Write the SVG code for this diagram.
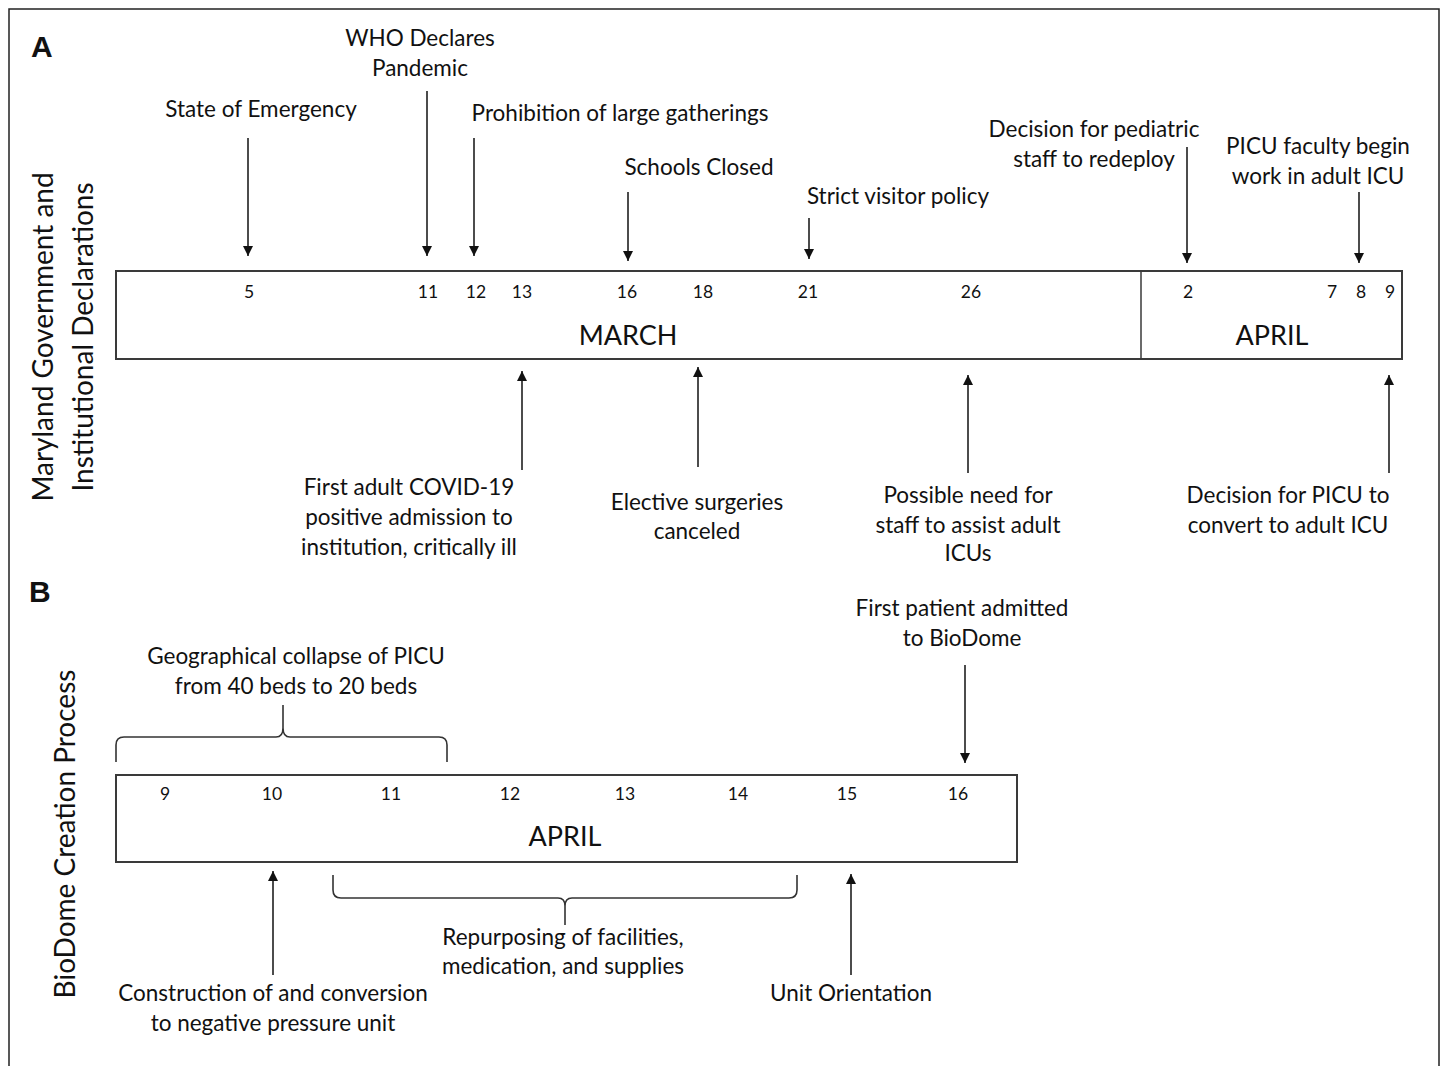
<svg xmlns="http://www.w3.org/2000/svg" width="1442" height="1066" viewBox="0 0 1442 1066">
<defs>
<marker id="ah" markerWidth="12" markerHeight="12" refX="10" refY="5" orient="auto" markerUnits="userSpaceOnUse">
<path d="M0,0 L10,5 L0,10 Z" fill="#111"/>
</marker>
<style>
text{font-family:Lato,"Open Sans","Liberation Sans",sans-serif;fill:#111}
.lbl{font-size:22.5px;text-anchor:middle}
.num{font-size:17.5px;text-anchor:middle}
.mon{font-size:27px;text-anchor:middle}
.side{font-size:28px;text-anchor:middle}
.pan{font-size:30px;font-weight:bold;font-family:"Liberation Sans",Arial,sans-serif}
.box{fill:none;stroke:#3a3a3a;stroke-width:2}
.arr{stroke:#111;stroke-width:1.5;fill:none;marker-end:url(#ah)}
.brace{stroke:#333;stroke-width:1.6;fill:none}
</style>
</defs>
<rect width="1442" height="1066" fill="#fff"/>
<path d="M9,1066 L9,9 L1439,9 L1439,1066" fill="none" stroke="#222" stroke-width="1.5"/>

<g id="panelA-titles">
<text class="pan" x="31" y="57">A</text>
<text class="side" transform="translate(53,337) rotate(-90)">Maryland Government and</text>
<text class="side" transform="translate(93,337) rotate(-90)">Institutional Declarations</text>
</g>

<g id="timelineA">
<rect class="box" x="116" y="271" width="1286" height="88"/>
<line x1="1141" y1="271" x2="1141" y2="359" stroke="#3a3a3a" stroke-width="1.5"/>
<text class="num" x="249" y="298">5</text>
<text class="num" x="428" y="298">11</text>
<text class="num" x="476" y="298">12</text>
<text class="num" x="522" y="298">13</text>
<text class="num" x="627" y="298">16</text>
<text class="num" x="703" y="298">18</text>
<text class="num" x="808" y="298">21</text>
<text class="num" x="971" y="298">26</text>
<text class="num" x="1188" y="298">2</text>
<text class="num" x="1332" y="298">7</text>
<text class="num" x="1361" y="298">8</text>
<text class="num" x="1390" y="298">9</text>
<text class="mon" x="628" y="345">MARCH</text>
<text class="mon" x="1272" y="345">APRIL</text>
</g>

<g id="eventsA">
<text class="lbl" x="261" y="117">State of Emergency</text>
<text class="lbl" x="420" y="46">WHO Declares</text>
<text class="lbl" x="420" y="76">Pandemic</text>
<text class="lbl" x="620" y="121">Prohibition of large gatherings</text>
<text class="lbl" x="699" y="175">Schools Closed</text>
<text class="lbl" x="898" y="204">Strict visitor policy</text>
<text class="lbl" x="1094" y="137">Decision for pediatric</text>
<text class="lbl" x="1094" y="167">staff to redeploy</text>
<text class="lbl" x="1318" y="154">PICU faculty begin</text>
<text class="lbl" x="1318" y="184">work in adult ICU</text>
<text class="lbl" x="409" y="495">First adult COVID-19</text>
<text class="lbl" x="409" y="525">positive admission to</text>
<text class="lbl" x="409" y="555">institution, critically ill</text>
<text class="lbl" x="697" y="510">Elective surgeries</text>
<text class="lbl" x="697" y="539">canceled</text>
<text class="lbl" x="968" y="503">Possible need for</text>
<text class="lbl" x="968" y="533">staff to assist adult</text>
<text class="lbl" x="968" y="561">ICUs</text>
<text class="lbl" x="1288" y="503">Decision for PICU to</text>
<text class="lbl" x="1288" y="533">convert to adult ICU</text>
</g>

<g id="panelB-titles">
<text class="pan" x="29" y="602">B</text>
<text class="side" transform="translate(75,834) rotate(-90)">BioDome Creation Process</text>
</g>

<g id="timelineB">
<rect class="box" x="116" y="775" width="901" height="87"/>
<text class="num" x="165" y="800">9</text>
<text class="num" x="272" y="800">10</text>
<text class="num" x="391" y="800">11</text>
<text class="num" x="510" y="800">12</text>
<text class="num" x="625" y="800">13</text>
<text class="num" x="738" y="800">14</text>
<text class="num" x="847" y="800">15</text>
<text class="num" x="958" y="800">16</text>
<text class="mon" x="565" y="846">APRIL</text>
</g>

<g id="eventsB">
<text class="lbl" x="296" y="664">Geographical collapse of PICU</text>
<text class="lbl" x="296" y="694">from 40 beds to 20 beds</text>
<text class="lbl" x="962" y="616">First patient admitted</text>
<text class="lbl" x="962" y="646">to BioDome</text>
<text class="lbl" x="563" y="945">Repurposing of facilities,</text>
<text class="lbl" x="563" y="974">medication, and supplies</text>
<text class="lbl" x="273" y="1001">Construction of and conversion</text>
<text class="lbl" x="273" y="1031">to negative pressure unit</text>
<text class="lbl" x="851" y="1001">Unit Orientation</text>
</g>

<g id="connectors">
<line class="arr" x1="248" y1="138" x2="248" y2="256"/>
<line class="arr" x1="427" y1="91" x2="427" y2="256"/>
<line class="arr" x1="474" y1="138" x2="474" y2="256"/>
<line class="arr" x1="628" y1="192" x2="628" y2="261"/>
<line class="arr" x1="809" y1="218" x2="809" y2="259"/>
<line class="arr" x1="1187" y1="147" x2="1187" y2="263"/>
<line class="arr" x1="1359" y1="192" x2="1359" y2="263"/>
<line class="arr" x1="522" y1="470" x2="522" y2="371"/>
<line class="arr" x1="698" y1="467" x2="698" y2="367"/>
<line class="arr" x1="968" y1="473" x2="968" y2="375"/>
<line class="arr" x1="1389" y1="473" x2="1389" y2="375"/>
<line class="arr" x1="965" y1="665" x2="965" y2="763"/>
<line class="arr" x1="273" y1="975" x2="273" y2="871"/>
<line class="arr" x1="851" y1="975" x2="851" y2="874"/>
<path class="brace" d="M116,762 L116,745 Q116,737 124,737 L276,737 Q283,737 283,728 L283,705 M283,728 Q283,737 290,737 L439,737 Q447,737 447,745 L447,762"/>
<path class="brace" d="M333,875 L333,890 Q333,898 341,898 L558,898 Q565,898 565,906 L565,925 M565,906 Q565,898 572,898 L789,898 Q797,898 797,890 L797,875"/>
</g>
</svg>
